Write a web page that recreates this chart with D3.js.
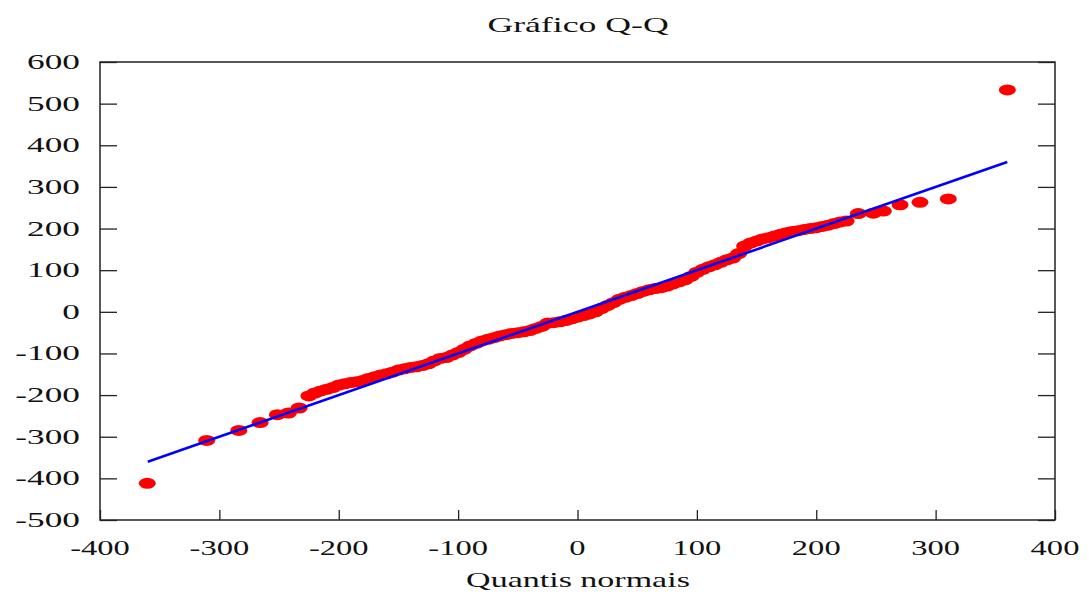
<!DOCTYPE html>
<html>
<head>
<meta charset="utf-8">
<script src="https://cdn.jsdelivr.net/npm/d3@7"></script>
<style>
  html, body { margin: 0; padding: 0; background: #fff; }
  svg { display: block; }
  text { font-family: "Liberation Serif", "Times New Roman", serif; fill: #111; }
</style>
</head>
<body>
<svg id="chart" width="1091" height="595"></svg>
<script>
// ---------- data ----------
const title = "Gráfico Q-Q";
const xLabel = "Quantis normais";
const xTicks = [-400, -300, -200, -100, 0, 100, 200, 300, 400];
const yTicks = [-500, -400, -300, -200, -100, 0, 100, 200, 300, 400, 500, 600];

// theoretical normal quantiles (x) of each observation
const quantiles = [
  -360.4, -310.6, -283.7, -265.9, -251.4, -242.2, -233.2, -225,
  -220, -215, -210, -205, -200, -195, -190, -185, -180, -175, -170, -165,
  -160, -155, -150, -145, -140, -135, -130, -125, -120, -115, -110, -105,
  -100, -95, -90, -85, -80, -75, -70, -65, -60, -55, -50, -45, -40, -35,
  -30, -25, -20, -15, -10, -5,
  0, 5, 10, 15, 20, 25, 30, 35, 40, 45, 50, 55, 60, 65, 70, 75, 80, 85,
  90, 95, 100, 105, 110, 115, 120, 125, 130, 135, 140, 145, 150, 155, 160,
  165, 170, 175, 180, 185, 190, 195, 200, 205, 210, 215, 220, 225,
  235.2, 247.8, 256.2, 270.2, 286.9, 310.6, 360.1
];
// sorted sample values (y)
const values = [
  -412, -309, -285, -266, -247, -243, -231, -202,
  -195, -190, -186, -182, -176, -173, -170, -168, -165, -160, -156, -152,
  -149, -145, -140, -137, -134, -132, -129, -125, -118, -112, -110, -104,
  -98, -90, -82, -76, -70, -66, -62, -58, -55, -52, -50, -48, -45, -40,
  -35, -27, -26, -24, -21, -17,
  -13, -9, -5, 0, 8, 15, 22, 30, 35, 39, 44, 49, 53, 56, 58, 62, 67, 72,
  77, 85, 95, 102, 108, 113, 119, 125, 129, 140, 158, 165, 170, 175, 178,
  182, 186, 190, 193, 195, 198, 200, 202, 205, 208, 212, 216, 218,
  236, 237, 242, 257, 263, 271, 533
];
// reference line y = x
const refLine = [[-360, -360], [360, 360]];

// ---------- drawing ----------
const svg = d3.select("#chart");
const L = 100, R = 1055, T = 62, B = 520;

const x = d3.scaleLinear().domain([-400, 400]).range([L, R]);
const y = d3.scaleLinear().domain([-500, 600]).range([B, T]);

// ticks (inward)
svg.append("g").attr("transform", `translate(${L},0)`)
  .call(d3.axisLeft(y).tickValues(yTicks).tickSize(-17).tickFormat(""))
  .call(g => g.select(".domain").remove());
svg.append("g").attr("transform", `translate(${R},0)`)
  .call(d3.axisRight(y).tickValues(yTicks).tickSize(-17).tickFormat(""))
  .call(g => g.select(".domain").remove());
svg.append("g").attr("transform", `translate(0,${B})`)
  .call(d3.axisBottom(x).tickValues(xTicks).tickSize(-10).tickFormat(""))
  .call(g => g.select(".domain").remove());
svg.selectAll(".tick line").attr("stroke", "#222").attr("stroke-width", 1.3);

// frame
svg.append("rect").attr("x", L).attr("y", T).attr("width", R - L).attr("height", B - T)
  .attr("fill", "none").attr("stroke", "#222").attr("stroke-width", 1.5);

// labels (text is horizontally stretched in the reference)
svg.append("g").selectAll("text").data(yTicks).join("text")
  .attr("transform", d => `translate(80,${y(d) + 7}) scale(1.68,1)`)
  .attr("text-anchor", "end").attr("font-size", 21).text(d => d);
svg.append("g").selectAll("text").data(xTicks).join("text")
  .attr("transform", d => `translate(${x(d)},555) scale(1.55,1)`)
  .attr("text-anchor", "middle").attr("font-size", 21).text(d => d);
svg.append("text").attr("transform", `translate(578,32) scale(1.7,1)`)
  .attr("text-anchor", "middle").attr("font-size", 21).text(title);
svg.append("text").attr("transform", `translate(578,587) scale(1.62,1)`)
  .attr("text-anchor", "middle").attr("font-size", 21).text(xLabel);

// points
svg.append("g").selectAll("ellipse").data(quantiles).join("ellipse")
  .attr("cx", (d) => x(d)).attr("cy", (d, i) => y(values[i]))
  .attr("rx", 8.5).attr("ry", 5.5).attr("fill", "#ff0000");

// reference line
svg.append("path").datum(refLine)
  .attr("d", d3.line().x(d => x(d[0])).y(d => y(d[1])))
  .attr("stroke", "#0000ff").attr("stroke-width", 2.6).attr("fill", "none");
</script>
</body>
</html>
